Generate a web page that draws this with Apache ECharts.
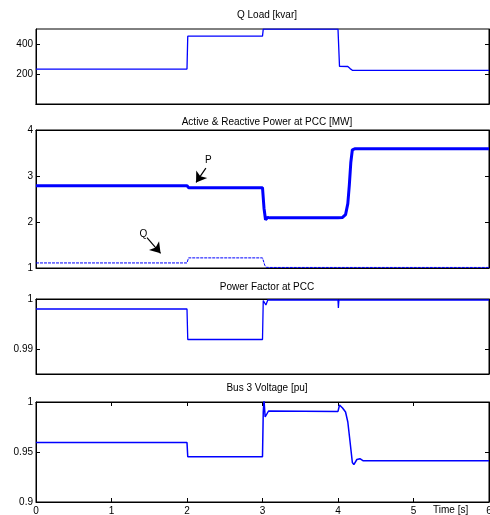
<!DOCTYPE html>
<html><head><meta charset="utf-8">
<script src="https://cdn.jsdelivr.net/npm/echarts@6/dist/echarts.min.js"></script>
<style>html,body{margin:0;padding:0;background:#fff}#c{width:490px;height:515px}</style>
</head><body><div id="c"></div>
<script>
// ---- data (time [s], value) ----
const titles = ['Q Load [kvar]', 'Active & Reactive Power at PCC [MW]', 'Power Factor at PCC', 'Bus 3 Voltage [pu]'];
const xTicks = [0, 1, 2, 3, 4, 5, 6];
const qLoad = [[0,233],[2.0,233],[2.01,452],[3.0,452],[3.01,499],[4.0,499],[4.02,251],[4.13,250],[4.16,236],[4.19,225],[6,224]];
const pPcc = [[0,2.79],[2.0,2.79],[2.02,2.745],[3.0,2.745],[3.02,2.3],[3.04,2.05],[3.07,2.1],[3.1,2.09],[4.0,2.09],[4.06,2.1],[4.1,2.16],[4.13,2.4],[4.15,2.8],[4.17,3.3],[4.19,3.57],[4.22,3.59],[6,3.59]];
const qPcc = [[0,1.11],[2.0,1.11],[2.02,1.22],[3.0,1.22],[3.03,1.06],[3.05,1.015],[3.07,1.03],[3.1,1.012],[6,1.012]];
const pf = [[0,0.998],[2.0,0.998],[2.01,0.9919],[3.0,0.9919],[3.01,0.9997],[3.03,0.9999],[3.045,0.9988],[3.07,0.9998],[4.0,0.9998],[4.005,0.9982],[4.012,0.9998],[6,0.9998]];
const vBus = [[0,0.9594],[2.0,0.9594],[2.01,0.9453],[3.0,0.9453],[3.01,0.99],[3.02,1.002],[3.035,0.985],[3.05,0.984],[3.08,0.991],[3.1,0.9905],[4.0,0.9906],[4.02,0.997],[4.06,0.994],[4.1,0.99],[4.13,0.98],[4.16,0.96],[4.19,0.9395],[4.21,0.9373],[4.25,0.9425],[4.29,0.9433],[4.33,0.9413],[6,0.9413]];
const yTicks1 = [200, 400];
const yTicks3 = [0.99, 1];

const FONT = 'Liberation Sans, Arial, sans-serif';
const BLUE = '#0000ff';
const grids = [
  {left:36, width:453, top:29, height:75},
  {left:36, width:453, top:130, height:138},
  {left:36, width:453, top:299, height:75},
  {left:36, width:453, top:402, height:100}
];
const titleY = [5, 112, 277, 378];

function fmt(v){ return String(Math.round(v*1000)/1000); }

const xAxis = [], yAxis = [];
grids.forEach((g, i) => {
  const last = i === 3;
  xAxis.push({type:'value', gridIndex:i, min:0, max:6, interval:1, position:'bottom',
    axisLine:{show:true, lineStyle:{color:'#000', width:1}},
    axisTick:{show:last, inside:true, length:4, lineStyle:{color:'#000'}},
    axisLabel:{show:last, color:'#000', fontSize:10, fontFamily:FONT, margin:4, formatter:fmt},
    splitLine:{show:false}});
  xAxis.push({type:'value', gridIndex:i, min:0, max:6, interval:1, position:'top',
    axisLine:{show:true, lineStyle:{color:'#000', width:1}},
    axisTick:{show:last, inside:true, length:4, lineStyle:{color:'#000'}},
    axisLabel:{show:false}, splitLine:{show:false}});
});
const yCfg = [
  {min:0, max:500, interval:100, custom:yTicks1},
  {min:1, max:4, interval:1},
  {min:0.985, max:1, interval:0.005, custom:yTicks3},
  {min:0.9, max:1, interval:0.05}
];
yCfg.forEach((c, i) => {
  ['left','right'].forEach(pos => {
    const ax = {type:'value', gridIndex:i, min:c.min, max:c.max, interval:c.interval, position:pos,
      axisLine:{show:true, onZero:false, lineStyle:{color:'#000', width:1}},
      axisTick:{show:true, inside:true, length:4, lineStyle:{color:'#000'}},
      axisLabel:{show:pos==='left', color:'#000', fontSize:10, fontFamily:FONT, margin:3, formatter:fmt},
      splitLine:{show:false}};
    if (c.custom) { ax.axisTick.customValues = c.custom; ax.axisLabel.customValues = c.custom; }
    yAxis.push(ax);
  });
});

function arrow(label, from, to, off){
  return {silent:true, symbol:['none','arrow'], symbolSize:10,
    lineStyle:{color:'#000', width:1.2, type:'solid'},
    label:{show:true, position:'start', formatter:label, color:'#000', fontSize:10, fontFamily:FONT, distance:1, offset:off},
    data:[[{coord:from},{coord:to}]]};
}

const series = [
  {type:'line', xAxisIndex:0, yAxisIndex:0, data:qLoad, showSymbol:false, lineStyle:{color:BLUE, width:1.3}},
  {type:'line', xAxisIndex:2, yAxisIndex:2, data:pPcc, showSymbol:false, lineStyle:{color:BLUE, width:3},
    markLine: arrow('P', [2.25, 3.17], [2.12, 2.86], [2, -2])},
  {type:'line', xAxisIndex:2, yAxisIndex:2, data:qPcc, showSymbol:false, lineStyle:{color:BLUE, width:1, type:[3,1]},
    markLine: arrow('Q', [1.47, 1.66], [1.65, 1.32], [-3, -3])},
  {type:'line', xAxisIndex:4, yAxisIndex:4, data:pf, showSymbol:false, lineStyle:{color:BLUE, width:1.3}},
  {type:'line', xAxisIndex:6, yAxisIndex:6, data:vBus, showSymbol:false, lineStyle:{color:BLUE, width:1.5}}
];

const chart = echarts.init(document.getElementById('c'), null, {renderer:'canvas'});
chart.setOption({
  animation:false,
  backgroundColor:'#fff',
  title: titles.map((t, i) => ({text:t, left:262, textAlign:'center', top:titleY[i],
    textStyle:{fontSize:10, fontWeight:'normal', color:'#000', fontFamily:FONT}})),
  grid: grids.map(g => Object.assign({show:true, borderColor:'#000', borderWidth:1, backgroundColor:'transparent', outerBoundsMode:'none', containLabel:false}, g)),
  xAxis, yAxis, series,
  graphic:[{type:'text', left:433, top:505, style:{text:'Time [s]', fontSize:10, fontFamily:FONT, fill:'#000'}}]
});
</script></body></html>
